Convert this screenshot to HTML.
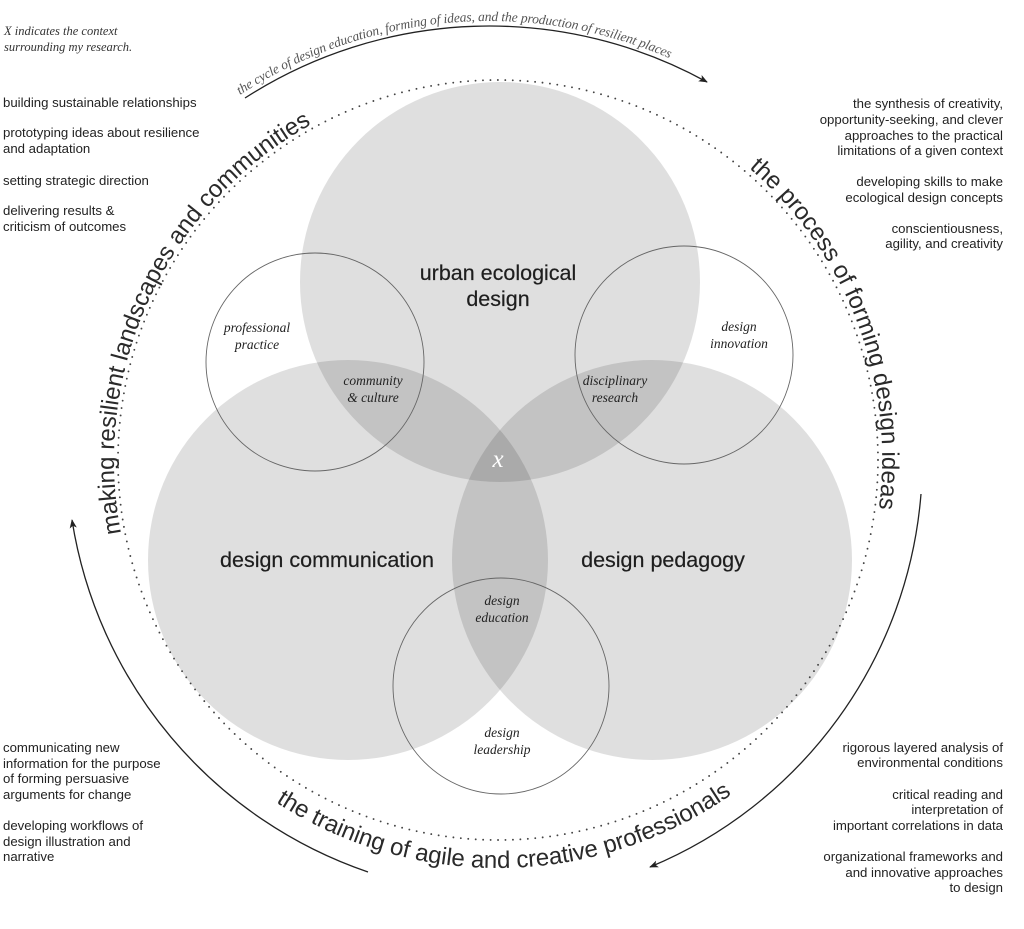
<!DOCTYPE html>
<html>
<head>
<meta charset="utf-8">
<style>
  html, body { margin: 0; padding: 0; background: #ffffff; }
  body { width: 1024px; height: 929px; overflow: hidden; }
  svg { display: block; }
  .serif { font-family: "Liberation Serif", "Times New Roman", serif; font-style: italic; }
  .list { font-family: "Liberation Sans", Arial, sans-serif; font-size: 13.2px; fill: #222; }
  .r { text-anchor: end; }
  .lbl { font-family: "Liberation Serif", serif; font-style: italic; font-size: 13.5px; fill: #222; text-anchor: middle; }
  .big { font-family: "Liberation Sans", Arial, sans-serif; font-size: 21.5px; fill: #1e1e1e; stroke: #1e1e1e; stroke-width: 0.2px; text-anchor: middle; }
  .ring { font-family: "Liberation Sans", Arial, sans-serif; font-size: 24px; fill: #2a2a2a; }
</style>
</head>
<body>
<svg xmlns="http://www.w3.org/2000/svg" xmlns:xlink="http://www.w3.org/1999/xlink" width="1024" height="929" viewBox="0 0 1024 929">
  <defs>
    <marker id="ah" viewBox="0 0 10 10" refX="9" refY="5" markerWidth="9" markerHeight="9" orient="auto" markerUnits="userSpaceOnUse">
      <path d="M0,1 L10,5 L0,9 L2.5,5 z" fill="#222"/>
    </marker>
    <path id="pLeft" d="M121.1,533.3 A384,384 0 0,1 311.8,124.2" fill="none"/>
    <path id="pRight" d="M749.0,168.0 A384,384 0 0,1 878.7,510.1" fill="none"/>
    <path id="pBottom" d="M275.8,802.2 A408,408 0 0,0 732.0,794.2" fill="none"/>
    <path id="pTop" d="M240.0,95.0 A456,456 0 0,1 670.1,58.5" fill="none"/>
  </defs>

  <!-- big translucent circles -->
  <g fill="#000" fill-opacity="0.125">
    <circle cx="500" cy="282" r="200"/>
    <circle cx="348" cy="560" r="200"/>
    <circle cx="652" cy="560" r="200"/>
  </g>

  <!-- small outline circles -->
  <g fill="none" stroke="#666" stroke-width="0.9">
    <circle cx="315" cy="362" r="109"/>
    <circle cx="684" cy="355" r="109"/>
    <circle cx="501" cy="686" r="108"/>
  </g>

  <!-- dotted ring -->
  <circle cx="498" cy="460" r="380" fill="none" stroke="#444" stroke-width="1.9" stroke-dasharray="0 7.46" stroke-linecap="round"/>

  <!-- arrow arcs -->
  <g fill="none" stroke="#222" stroke-width="1.3">
    <path d="M245,98 A451,451 0 0,1 707,82" marker-end="url(#ah)"/>
    <path d="M368,872 A445,445 0 0,1 72,520" marker-end="url(#ah)"/>
    <path d="M921,494 A442,442 0 0,1 650,867" marker-end="url(#ah)"/>
  </g>

  <!-- curved ring labels -->
  <text class="ring"><textPath href="#pLeft" xlink:href="#pLeft" textLength="482" lengthAdjust="spacing">making resilient landscapes and communities</textPath></text>
  <text class="ring"><textPath href="#pRight" xlink:href="#pRight" textLength="380" lengthAdjust="spacing">the process of forming design ideas</textPath></text>
  <text class="ring"><textPath href="#pBottom" xlink:href="#pBottom" textLength="484" lengthAdjust="spacing">the training of agile and creative professionals</textPath></text>
  <text class="serif" font-size="13.5" fill="#555"><textPath href="#pTop" xlink:href="#pTop" textLength="449" lengthAdjust="spacing">the cycle of design education, forming of ideas, and the production of resilient places</textPath></text>

  <!-- big labels -->
  <text class="big" x="498" y="280">urban ecological</text>
  <text class="big" x="498" y="306">design</text>
  <text class="big" x="327" y="567">design communication</text>
  <text class="big" x="663" y="567">design pedagogy</text>

  <!-- italic labels -->
  <text class="lbl" x="257" y="332">professional</text>
  <text class="lbl" x="257" y="349">practice</text>
  <text class="lbl" x="373" y="385">community</text>
  <text class="lbl" x="373" y="402">&amp; culture</text>
  <text class="lbl" x="615" y="385">disciplinary</text>
  <text class="lbl" x="615" y="402">research</text>
  <text class="lbl" x="739" y="331">design</text>
  <text class="lbl" x="739" y="348">innovation</text>
  <text class="lbl" x="502" y="605">design</text>
  <text class="lbl" x="502" y="622">education</text>
  <text class="lbl" x="502" y="737">design</text>
  <text class="lbl" x="502" y="754">leadership</text>
  <text class="serif" x="498" y="467" text-anchor="middle" font-size="25" fill="#ffffff">x</text>

  <!-- top-left note -->
  <text class="serif" font-size="12.5" fill="#333" x="4" y="35">X indicates the context</text>
  <text class="serif" font-size="12.5" fill="#333" x="4" y="51">surrounding my research.</text>

  <!-- left top list -->
  <text class="list" x="3" y="107">building sustainable relationships</text>
  <text class="list" x="3" y="137">prototyping ideas about resilience</text>
  <text class="list" x="3" y="153">and adaptation</text>
  <text class="list" x="3" y="185">setting strategic direction</text>
  <text class="list" x="3" y="215">delivering results &amp;</text>
  <text class="list" x="3" y="231">criticism of outcomes</text>

  <!-- right top list -->
  <text class="list r" x="1003" y="108">the synthesis of creativity,</text>
  <text class="list r" x="1003" y="124">opportunity-seeking, and clever</text>
  <text class="list r" x="1003" y="140">approaches to the practical</text>
  <text class="list r" x="1003" y="155">limitations of a given context</text>
  <text class="list r" x="1003" y="186">developing skills to make</text>
  <text class="list r" x="1003" y="202">ecological design concepts</text>
  <text class="list r" x="1003" y="233">conscientiousness,</text>
  <text class="list r" x="1003" y="248">agility, and creativity</text>

  <!-- bottom left list -->
  <text class="list" x="3" y="752">communicating new</text>
  <text class="list" x="3" y="768">information for the purpose</text>
  <text class="list" x="3" y="783">of forming persuasive</text>
  <text class="list" x="3" y="799">arguments for change</text>
  <text class="list" x="3" y="830">developing workflows of</text>
  <text class="list" x="3" y="846">design illustration and</text>
  <text class="list" x="3" y="861">narrative</text>

  <!-- bottom right list -->
  <text class="list r" x="1003" y="752">rigorous layered analysis of</text>
  <text class="list r" x="1003" y="767">environmental conditions</text>
  <text class="list r" x="1003" y="799">critical reading and</text>
  <text class="list r" x="1003" y="814">interpretation of</text>
  <text class="list r" x="1003" y="830">important correlations in data</text>
  <text class="list r" x="1003" y="861">organizational frameworks and</text>
  <text class="list r" x="1003" y="877">and innovative approaches</text>
  <text class="list r" x="1003" y="892">to design</text>
</svg>
</body>
</html>
